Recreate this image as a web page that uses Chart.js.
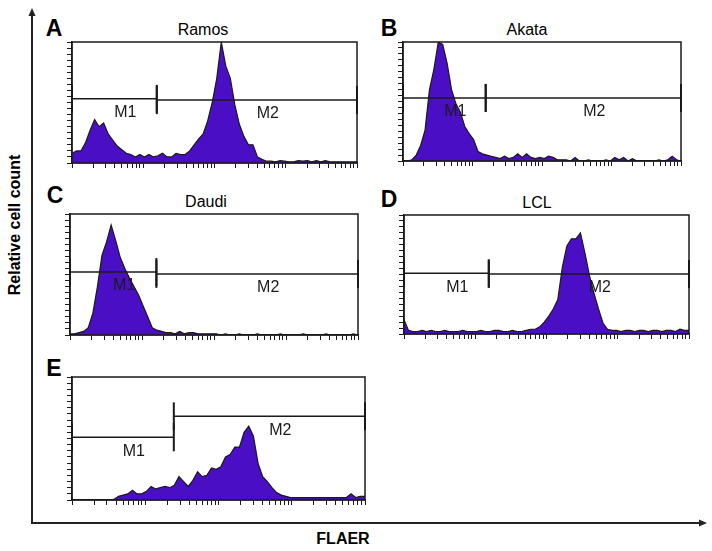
<!DOCTYPE html>
<html>
<head>
<meta charset="utf-8">
<script src="https://cdn.jsdelivr.net/npm/chart.js@4.4.1/dist/chart.umd.min.js"></script>
<style>
  body { margin: 0; background: #fff; font-family: "Liberation Sans", Arial, sans-serif; }
  #figure { position: relative; width: 712px; height: 551px; overflow: hidden; }
  #figure canvas { position: absolute; }
  #frame { position: absolute; left: 0; top: 0; }
  .letter { position: absolute; font-weight: bold; font-size: 23px; transform: translate(-50%, -50%); }
  .title { position: absolute; font-size: 16px; transform: translate(-50%, -50%); white-space: nowrap; }
  #ytitle { position: absolute; left: 15px; top: 225px; font-weight: bold; font-size: 16px; white-space: nowrap;
            transform: translate(-50%, -50%) rotate(-90deg); }
  #xtitle { position: absolute; left: 343px; top: 539px; font-weight: bold; font-size: 16px; transform: translate(-50%, -50%); }
</style>
</head>
<body>
<div id="figure">
  <svg id="frame" width="712" height="551">
    <line x1="32" y1="15" x2="32" y2="524" stroke="#222" stroke-width="2" />
    <polygon points="32,8 28.5,16 35.5,16" fill="#222" />
    <line x1="31" y1="523" x2="700" y2="523" stroke="#222" stroke-width="2" />
    <polygon points="707,523 699,519.5 699,526.5" fill="#222" />
  </svg>
  <div id="ytitle">Relative cell count</div>
  <div id="xtitle">FLAER</div>

  <div class="letter" style="left:54px;top:28px">A</div>
  <div class="letter" style="left:389px;top:28px">B</div>
  <div class="letter" style="left:55px;top:195px">C</div>
  <div class="letter" style="left:389px;top:199px">D</div>
  <div class="letter" style="left:54px;top:368px">E</div>

  <div class="title" style="left:203px;top:30px">Ramos</div>
  <div class="title" style="left:527px;top:30px">Akata</div>
  <div class="title" style="left:206px;top:202px">Daudi</div>
  <div class="title" style="left:537px;top:203px">LCL</div>

  <canvas id="chart-a"></canvas>
  <canvas id="chart-b"></canvas>
  <canvas id="chart-c"></canvas>
  <canvas id="chart-d"></canvas>
  <canvas id="chart-e"></canvas>
</div>
<script>
// FLAER histograms, 64 channels over 4 log decades, counts scaled to 100 = top of box
const fluorDecades = 4;

const ramosCounts = [8, 10, 10, 17, 27, 36, 30, 33, 24, 19, 14, 11, 8, 7, 5, 7,
  5, 7, 5, 6, 8, 5, 5, 8, 7, 7, 10, 15, 20, 24, 35, 50,
  70, 100, 80, 70, 48, 32, 22, 15, 15, 5, 3, 1.5, 1.5, 1, 2, 1.5,
  1, 1, 2, 1.5, 2, 1, 2, 1, 2, 1, 1, 1, 1, 1, 1, 1];
const akataCounts = [0, 0, 1, 5, 13, 26, 60, 77, 100, 98, 82, 60, 48, 41, 29, 23,
  18, 8, 6, 5, 4, 3, 2, 4, 2, 3, 6, 3, 6, 3, 2, 3,
  2, 4, 3, 1, 1, 1, 0, 3, 0, 0, 1, 0, 0, 0, 1, 0,
  3, 1, 3, 0, 2, 0, 0, 0, 0, 0, 1, 0, 1, 4, 1, 0];
const daudiCounts = [1, 1, 2, 3, 6, 18, 40, 66, 77, 91, 78, 64, 55, 47, 40, 33,
  24, 15, 6, 4, 3, 2, 2, 1, 3, 1, 2, 2, 1, 1, 1, 1,
  1, 0, 1, 0, 0, 1, 0, 0, 0, 1, 0, 0, 0, 0, 1, 0,
  0, 0, 0, 1, 0, 0, 0, 0, 1, 0, 0, 0, 0, 0, 1, 0];
const lclCounts = [12, 3, 2, 2, 3, 2, 3, 2, 2, 3, 2, 2, 2, 3, 2, 2,
  2, 3, 2, 2, 3, 3, 2, 2, 3, 2, 2, 3, 4, 4, 6, 10,
  15, 21, 29, 56, 74, 80, 80, 85, 68, 49, 34, 21, 9, 4, 3, 3,
  2, 3, 3, 2, 3, 3, 2, 3, 3, 2, 3, 3, 2, 4, 3, 3];
const lclPlusCounts = [0, 0, 0, 0, 0, 0, 0, 0, 0, 0.5, 3, 4, 5, 8, 5, 5,
  7, 11, 9, 10, 11, 10, 12, 19, 15, 11, 16, 23, 19, 20, 26, 25,
  27, 35, 37, 43, 43, 55, 60, 52, 30, 19, 15, 10, 6, 4, 3, 2,
  2, 2, 2, 2, 2, 2, 2, 2, 2, 2, 2, 2, 5, 2, 3, 3];

// Marker gates: [name, start decade, end decade, level]
const ramosGates = [['M1', 0, 1.19, 53], ['M2', 1.19, 4, 52]];
const akataGates = [['M1', 0, 1.19, 53], ['M2', 1.19, 4, 53]];
const daudiGates = [['M1', 0, 1.2, 52], ['M2', 1.2, 4, 50.5]];
const lclGates = [['M1', 0, 1.19, 51], ['M2', 1.19, 4, 50.5]];
const lclPlusGates = [['M1', 0, 1.39, 51], ['M2', 1.39, 4, 68]];

// Log tick positions (1..9 x 10^n)
const logTicks = [];
for (let d = 0; d < fluorDecades; d++) {
  for (let k = 1; k <= 9; k++) logTicks.push(d + Math.log10(k));
}
logTicks.push(fluorDecades);

const histFill = '#4a0fc4';
const inkColor = '#1a1a1a';

// Plugin: box around the plot area
const boxFrame = {
  id: 'boxFrame',
  afterDraw(chart) {
    const { ctx, chartArea } = chart;
    ctx.save();
    ctx.strokeStyle = inkColor;
    ctx.lineWidth = 1.5;
    ctx.strokeRect(chartArea.left, chartArea.top, chartArea.right - chartArea.left, chartArea.bottom - chartArea.top);
    ctx.restore();
  }
};

// Plugin: M1 / M2 labels under each gate line
const gateLabels = {
  id: 'gateLabels',
  afterDraw(chart) {
    const ctx = chart.ctx;
    ctx.save();
    ctx.fillStyle = inkColor;
    ctx.font = '16px "Liberation Sans", Arial, sans-serif';
    ctx.textAlign = 'center';
    ctx.textBaseline = 'middle';
    chart.data.datasets.forEach((ds, i) => {
      if (!ds.gate) return;
      const pts = chart.getDatasetMeta(i).data;
      ctx.fillText(ds.label, (pts[0].x + pts[1].x) / 2 + 11, pts[0].y + 14);
    });
    ctx.restore();
  }
};

// Function to draw one histogram panel
function drawHistogram(canvasId, box, counts, gates) {
  const canvas = document.getElementById(canvasId);
  canvas.width = box.w + 10;
  canvas.height = box.h + 10;
  canvas.style.left = (box.left - 8) + 'px';
  canvas.style.top = (box.top - 2) + 'px';

  const points = counts.map((c, i) => ({ x: fluorDecades * i / (counts.length - 1), y: c }));
  const datasets = [{
    label: 'count',
    data: points,
    fill: 'origin',
    backgroundColor: histFill,
    borderColor: inkColor,
    borderWidth: 1.2,
    pointRadius: 0,
    tension: 0,
    order: 2
  }];
  gates.forEach((g) => {
    datasets.push({
      label: g[0],
      gate: true,
      data: [{ x: g[1], y: g[3] }, { x: g[2], y: g[3] }],
      fill: false,
      borderColor: inkColor,
      borderWidth: 1.5,
      pointStyle: 'line',
      rotation: 90,
      pointRadius: 14,
      pointBorderWidth: 2,
      pointBorderColor: inkColor,
      clip: false,
      order: 1
    });
  });

  new Chart(canvas, {
    type: 'line',
    data: { datasets },
    options: {
      responsive: false,
      animation: false,
      devicePixelRatio: 1,
      layout: { autoPadding: false, padding: { left: 2, right: 2, top: 2, bottom: 2 } },
      plugins: { legend: { display: false }, tooltip: { enabled: false } },
      scales: {
        x: {
          type: 'linear',
          min: 0,
          max: fluorDecades,
          afterBuildTicks: (scale) => { scale.ticks = logTicks.map((v) => ({ value: v })); },
          afterFit: (scale) => { scale.height = 6; },
          ticks: { display: false },
          grid: { drawOnChartArea: false, tickLength: 5, color: inkColor, lineWidth: 1 },
          border: { color: inkColor, width: 1.5 }
        },
        y: {
          min: 0,
          max: 100,
          afterFit: (scale) => { scale.width = 6; },
          ticks: { display: false, stepSize: 5 },
          grid: { drawOnChartArea: false, tickLength: 5, color: inkColor, lineWidth: 1 },
          border: { color: inkColor, width: 1.5 }
        }
      }
    },
    plugins: [boxFrame, gateLabels]
  });
}

drawHistogram('chart-a', { left: 72, top: 42, w: 285, h: 121 }, ramosCounts, ramosGates);
drawHistogram('chart-b', { left: 403, top: 42, w: 278, h: 119 }, akataCounts, akataGates);
drawHistogram('chart-c', { left: 70, top: 214, w: 288, h: 121 }, daudiCounts, daudiGates);
drawHistogram('chart-d', { left: 404, top: 215, w: 285, h: 119 }, lclCounts, lclGates);
drawHistogram('chart-e', { left: 72, top: 377, w: 293, h: 123 }, lclPlusCounts, lclPlusGates);
</script>
</body>
</html>
